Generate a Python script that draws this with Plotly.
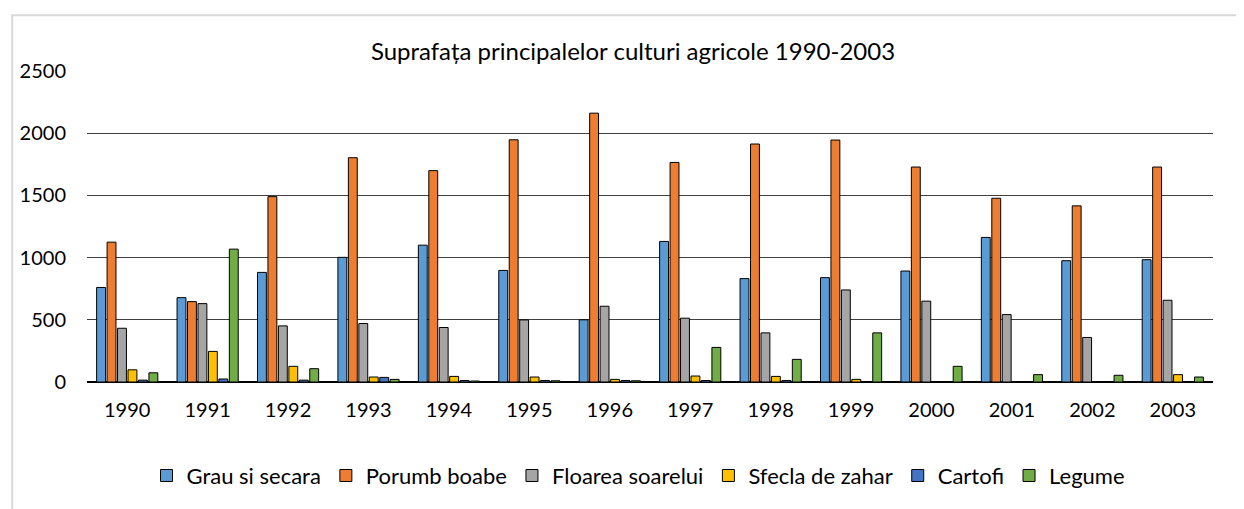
import plotly.graph_objects as go

years = ["1990", "1991", "1992", "1993", "1994", "1995", "1996",
         "1997", "1998", "1999", "2000", "2001", "2002", "2003"]
grau = [760, 678, 881, 1002, 1100, 897, 500, 1130, 831, 839, 892, 1162, 975, 983]
porumb = [1124, 646, 1490, 1803, 1699, 1947, 2161, 1765, 1913, 1945, 1728, 1477, 1416, 1728]
floarea = [432, 630, 451, 470, 438, 499, 609, 513, 395, 740, 650, 542, 358, 657]
sfecla = [98, 246, 126, 40, 45, 40, 21, 48, 45, 21, 0, 0, 0, 59]
cartofi = [15, 24, 15, 37, 12, 12, 12, 12, 12, 0, 0, 0, 0, 0]
legume = [74, 1068, 107, 21, 8, 10, 10, 278, 182, 395, 126, 59, 54, 40]

series = [
    ("Grau si secara", grau, "#5B9BD5"),
    ("Porumb boabe", porumb, "#ED7D31"),
    ("Floarea soarelui", floarea, "#A5A5A5"),
    ("Sfecla de zahar", sfecla, "#FFC000"),
    ("Cartofi", cartofi, "#4472C4"),
    ("Legume", legume, "#70AD47"),
]

FONT = "Lato"
fig = go.Figure()
for name, vals, col in series:
    fig.add_trace(go.Bar(
        x=years, y=vals, name=name,
        marker=dict(color=col, line=dict(color="#000000", width=1)),
    ))

# page has an 8px body margin; figure is placed at (8, 8)
OFF = 8
W, H = 1244 - OFF, 509 - OFF
L, R, T, B = 84 - OFF, 31, 71 - OFF, 126
pw, ph = W - L - R, H - T - B

def px(xp):
    return (xp - OFF - L) / pw

def py(yp):
    return (H - B - (yp - OFF)) / ph

fig.update_layout(
    width=W, height=H,
    margin=dict(l=L, r=R, t=T, b=B),
    paper_bgcolor="white", plot_bgcolor="white",
    barmode="group", bargap=0.22, bargroupgap=0.15,
    font=dict(family=FONT, size=20, color="#000000"),
    title=dict(text="Suprafața principalelor culturi agricole 1990-2003",
               x=(633 - OFF) / W, xref="container", xanchor="center",
               y=1 - (52 - OFF) / H, yref="container", yanchor="middle",
               font=dict(family=FONT, size=24, color="#000000")),
    legend=dict(orientation="h", x=px(637), xanchor="center",
                y=py(477), yanchor="middle",
                font=dict(family=FONT, size=22, color="#000000"),
                traceorder="normal"),
    xaxis=dict(showgrid=False, showline=False, ticks="",
               tickfont=dict(family=FONT, size=20), ticklabelstandoff=14),
    yaxis=dict(range=[0, 2500], dtick=500, showgrid=True, gridcolor="#3f3f3f",
               gridwidth=1, zeroline=True, zerolinecolor="#000000", zerolinewidth=2,
               showline=False, ticks="", tickfont=dict(family=FONT, size=20),
               ticklabelstandoff=20),
    shapes=[dict(type="rect", xref="paper", yref="paper",
                 x0=px(9), x1=px(1260), y0=py(525), y1=py(15),
                 line=dict(color="#d9d9d9", width=2), fillcolor="rgba(0,0,0,0)",
                 layer="below")],
)

fig.write_html("out.html")
